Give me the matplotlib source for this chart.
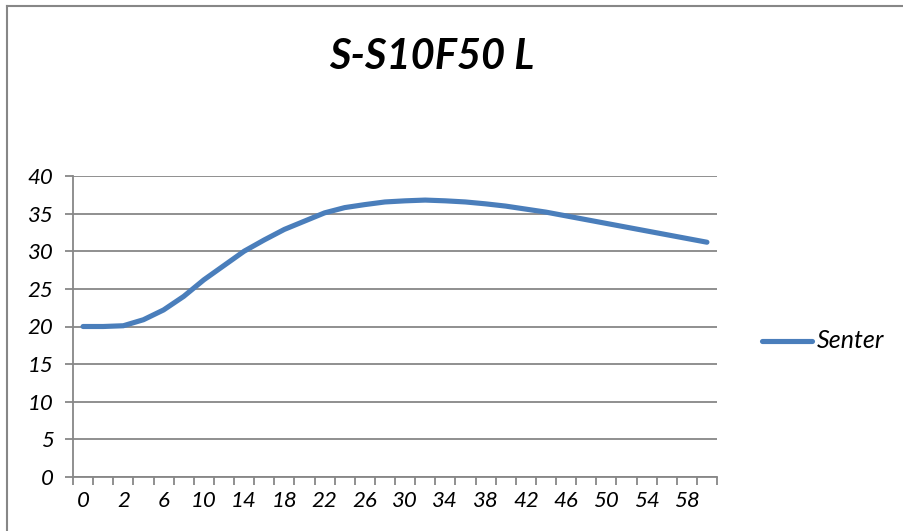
import matplotlib.pyplot as plt
import numpy as np
from matplotlib.lines import Line2D

# data
time_min = [0, 1, 2, 4, 6, 8, 10, 12, 14, 16, 18, 20, 22, 24, 26, 28, 30,
            32, 34, 36, 38, 40, 42, 44, 46, 48, 50, 52, 54, 56, 58, 60]
senter = [20.0, 20.0, 20.1, 20.9, 22.2, 24.0, 26.2, 28.1, 30.0, 31.5, 32.9,
          34.0, 35.1, 35.8, 36.2, 36.55, 36.7, 36.8, 36.7, 36.55, 36.3, 36.0,
          35.6, 35.2, 34.7, 34.2, 33.7, 33.2, 32.7, 32.2, 31.7, 31.2]
y_ticks = [0, 5, 10, 15, 20, 25, 30, 35, 40]

font = 'Lato'
grey = '#878787'
blue = '#4A7EBB'

W, H = 904, 531
fig = plt.figure(figsize=(W / 100, H / 100), dpi=100)

# chart border (cropped on right and bottom)
fig.add_artist(Line2D([7 / W, 7 / W], [0, 1 - 6 / H], transform=fig.transFigure,
                      color=grey, lw=1.5))
fig.add_artist(Line2D([7 / W, 1], [1 - 6 / H, 1 - 6 / H], transform=fig.transFigure,
                      color=grey, lw=1.5))

ax = fig.add_axes([73 / W, 1 - 477 / H, (717 - 73) / W, (477 - 176) / H])

x = np.arange(len(time_min))
ax.plot(x, senter, color=blue, lw=3.7, solid_capstyle='round', solid_joinstyle='round')

ax.set_xlim(-0.5, len(time_min) - 0.5)
ax.set_ylim(0, 40)

ax.set_yticks(y_ticks)
ax.set_yticklabels([str(v) for v in y_ticks], fontsize=16, fontstyle='italic', family=font)
ax.yaxis.grid(True, color=grey, lw=1.3)
ax.set_axisbelow(True)

lab_pos = x[::2]
ax.set_xticks(lab_pos)
ax.set_xticklabels([str(time_min[i]) for i in lab_pos], fontsize=16,
                   fontstyle='italic', family=font)
ax.set_xticks(np.arange(-0.5, len(time_min)), minor=True)
ax.tick_params(axis='x', which='major', length=0, pad=10)
ax.tick_params(axis='x', which='minor', length=6, color=grey, width=1.3)
ax.tick_params(axis='y', length=6, color=grey, width=1.3, pad=8)

for side in ['top', 'right']:
    ax.spines[side].set_visible(False)
for side in ['left', 'bottom']:
    ax.spines[side].set_color(grey)
    ax.spines[side].set_linewidth(1.3)

fig.text(432 / W, 1 - 57 / H, 'S-S10F50 L', fontsize=30, fontweight='bold',
         fontstyle='italic', family=font, ha='center', va='center')

# legend
fig.add_artist(Line2D([762 / W, 812 / W], [1 - 341 / H, 1 - 341 / H],
                      transform=fig.transFigure, color=blue, lw=3.7,
                      solid_capstyle='round'))
fig.text(817 / W, 1 - 341 / H, 'Senter', fontsize=18, fontstyle='italic',
         family=font, ha='left', va='center')

fig.savefig('out.png', dpi=100)
